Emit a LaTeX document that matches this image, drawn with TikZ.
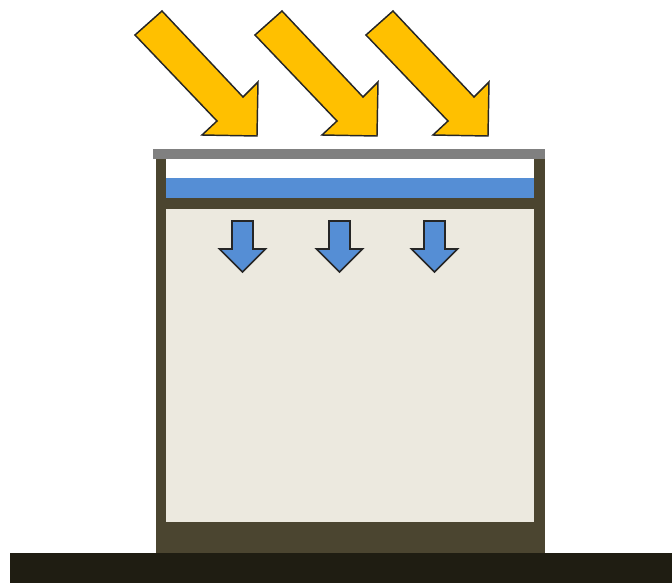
\documentclass[tikz,border=0pt]{standalone}
\begin{document}
\begin{tikzpicture}[x=0.75pt,y=-0.75pt,
  sunray/.style={fill=sunyellow,draw=black!85,line width=1.1pt,line join=miter},
  flowarrow/.style={fill=flowblue,draw=black!85,line width=1.3pt,line join=miter}]
\definecolor{sunyellow}{HTML}{FFC000}
\definecolor{flowblue}{HTML}{558ED5}
\definecolor{wall}{HTML}{4B4530}
\definecolor{inside}{HTML}{ECE9DF}
\definecolor{ground}{HTML}{1F1D12}
\definecolor{cover}{HTML}{808080}
\useasboundingbox (0,0) rectangle (672,583);
% ground slab
\fill[ground] (10,553) rectangle (672,583);
% container walls and interior
\fill[wall] (156,150) rectangle (545,553);
\fill[inside] (166,209) rectangle (534,522);
% top layers: white gap and blue layer
\fill[white] (166,159) rectangle (534,178);
\fill[flowblue] (166,178) rectangle (534,198);
% grey cover
\fill[cover] (153,149) rectangle (545,159);
% incoming rays
\foreach \dx in {0,120,231}{
  \draw[sunray,xshift=\dx*0.75pt] (162,11) -- (243,97) -- (258,82) -- (257,136)
    -- (202,135) -- (217,121) -- (135,35) -- cycle;
}
% downward flow arrows
\foreach \cx in {242.5,339.5,434.5}{
  \draw[flowarrow] (\cx-10.5,221) -- (\cx+10.5,221) -- (\cx+10.5,249) -- (\cx+23,249)
    -- (\cx,272) -- (\cx-23,249) -- (\cx-10.5,249) -- cycle;
}
\end{tikzpicture}
\end{document}
